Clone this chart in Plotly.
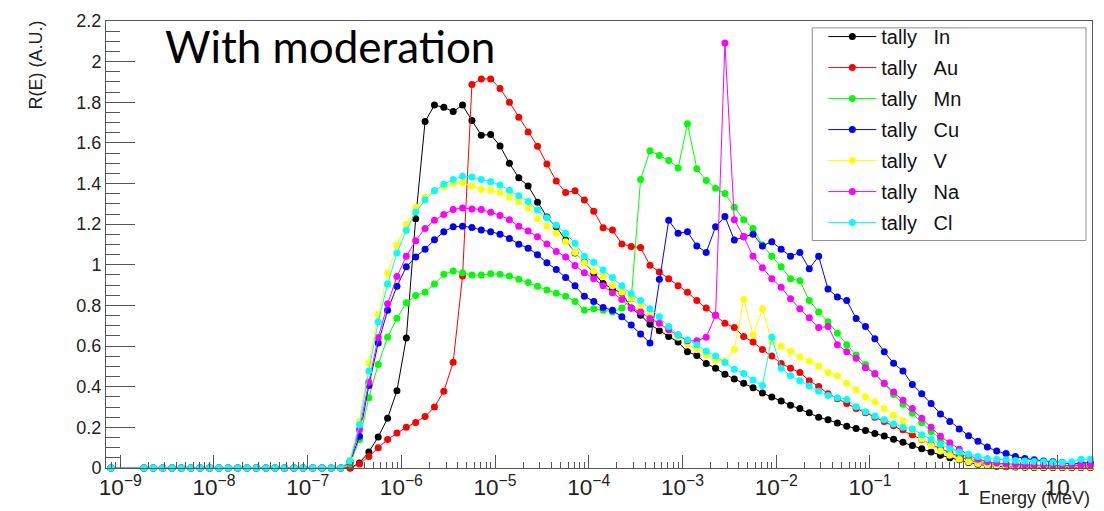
import numpy as np
import plotly.graph_objects as go

# ---- Energy binning (MeV): first bin [0, 10^-8.8], then 10 log-bins per decade up to 10^1.4
bin_exponents = np.arange(-88, 15) / 10.0
bin_edges = np.concatenate([[0.0], 10.0 ** bin_exponents])
energy = 0.5 * (bin_edges[:-1] + bin_edges[1:])   # bin centres, 103 bins

# 23 empty bins below 10^-6.6 MeV (shared by all tallies)
low_energy_zeros = [0.0, 0.0, 0.0, 0.0, 0.0, 0.0, 0.0, 0.0, 0.0, 0.0, 0.0, 0.0,
                    0.0, 0.0, 0.0, 0.0, 0.0, 0.0, 0.0, 0.0, 0.0, 0.0, 0.0]

# ---- R(E) values for bins 10^-6.6 ... 10^1.3 (80 bins each)
tally_In = [0.0, 0.025, 0.079, 0.153, 0.245, 0.38, 0.64, 1.227, 1.705, 1.786, 1.775, 1.754, 1.786, 1.71, 1.638, 1.641, 1.585, 1.50, 1.428, 1.388, 1.308, 1.235, 1.187,
            1.122, 1.058, 1.013, 0.958, 0.908, 0.881, 0.862, 0.787, 0.752, 0.707, 0.675, 0.647, 0.62, 0.572, 0.554, 0.514, 0.491, 0.462, 0.438, 0.417, 0.395, 0.369, 0.349, 0.33, 0.309, 0.293, 0.272, 0.25, 0.237, 0.221, 0.205,
            0.195, 0.184, 0.17, 0.157, 0.142, 0.127, 0.111, 0.095, 0.079, 0.063, 0.05, 0.04, 0.027, 0.018, 0.012, 0.008, 0.006, 0.005, 0.004, 0.003, 0.003, 0.002, 0.002, 0.002, 0.002, 0.002]
tally_Au = [0.0, 0.02, 0.056, 0.10, 0.14, 0.172, 0.20, 0.224, 0.253, 0.30, 0.378, 0.52, 0.945, 1.887, 1.915, 1.915, 1.868, 1.80, 1.726, 1.654, 1.584, 1.496, 1.412,
            1.356, 1.364, 1.319, 1.264, 1.182, 1.171, 1.103, 1.09, 1.085, 0.998, 0.965, 0.932, 0.897, 0.865, 0.824, 0.787, 0.752, 0.712, 0.691, 0.647, 0.62, 0.583, 0.551, 0.514, 0.491, 0.47, 0.43, 0.401, 0.366, 0.341, 0.317,
            0.293, 0.272, 0.25, 0.229, 0.208, 0.188, 0.164, 0.14, 0.116, 0.095, 0.076, 0.056, 0.04, 0.027, 0.019, 0.013, 0.009, 0.007, 0.006, 0.005, 0.005, 0.004, 0.004, 0.004, 0.004, 0.004]
tally_Mn = [0.02, 0.14, 0.346, 0.51, 0.643, 0.737, 0.813, 0.849, 0.865, 0.905, 0.953, 0.969, 0.961, 0.95, 0.95, 0.956, 0.953, 0.945, 0.929, 0.913, 0.894, 0.876, 0.86,
            0.845, 0.82, 0.776, 0.784, 0.776, 0.768, 0.787, 0.833, 1.42, 1.562, 1.538, 1.514, 1.477, 1.694, 1.473, 1.415, 1.377, 1.351, 1.283, 1.222, 1.179, 1.098, 1.042, 0.99, 0.932, 0.921, 0.824, 0.768, 0.72, 0.663, 0.607,
            0.556, 0.51, 0.462, 0.414, 0.362, 0.314, 0.269, 0.224, 0.18, 0.143, 0.105, 0.076, 0.052, 0.035, 0.024, 0.017, 0.013, 0.011, 0.01, 0.009, 0.009, 0.008, 0.008, 0.008, 0.008, 0.008]
tally_Cu = [0.03, 0.156, 0.406, 0.615, 0.776, 0.894, 0.99, 1.039, 1.077, 1.123, 1.163, 1.187, 1.19, 1.184, 1.171, 1.163, 1.151, 1.13, 1.101, 1.082, 1.05, 1.01, 0.977,
            0.937, 0.897, 0.845, 0.82, 0.79, 0.776, 0.744, 0.704, 0.66, 0.615, 0.929, 1.219, 1.155, 1.163, 1.093, 1.061, 1.187, 1.238, 1.122, 1.138, 1.151, 1.093, 1.114, 1.077, 1.042, 1.061, 0.981, 1.042, 0.881, 0.841, 0.824,
            0.736, 0.696, 0.636, 0.572, 0.515, 0.478, 0.411, 0.366, 0.317, 0.266, 0.229, 0.192, 0.159, 0.132, 0.103, 0.084, 0.071, 0.056, 0.047, 0.04, 0.035, 0.031, 0.027, 0.019, 0.024, 0.027]
tally_V = [0.04, 0.229, 0.518, 0.755, 0.958, 1.098, 1.198, 1.283, 1.332, 1.367, 1.383, 1.40, 1.404, 1.388, 1.372, 1.367, 1.356, 1.332, 1.311, 1.28, 1.227, 1.19, 1.155,
           1.114, 1.061, 1.01, 0.969, 0.942, 0.897, 0.865, 0.836, 0.792, 0.755, 0.707, 0.675, 0.643, 0.61, 0.583, 0.556, 0.53, 0.527, 0.583, 0.829, 0.655, 0.784, 0.623, 0.599, 0.575, 0.546, 0.527, 0.502, 0.47, 0.454, 0.417,
           0.385, 0.349, 0.325, 0.293, 0.261, 0.233, 0.188, 0.143, 0.111, 0.084, 0.063, 0.043, 0.031, 0.022, 0.016, 0.012, 0.01, 0.008, 0.007, 0.006, 0.006, 0.006, 0.006, 0.006, 0.006, 0.006]
tally_Na = [0.03, 0.188, 0.422, 0.642, 0.808, 0.942, 1.042, 1.119, 1.179, 1.219, 1.248, 1.272, 1.28, 1.275, 1.272, 1.259, 1.243, 1.222, 1.19, 1.166, 1.138, 1.103, 1.066,
            1.039, 0.997, 0.961, 0.932, 0.897, 0.862, 0.829, 0.787, 0.768, 0.736, 0.712, 0.68, 0.655, 0.626, 0.626, 0.643, 0.752, 2.092, 1.222, 1.138, 1.042, 0.986, 0.932, 0.889, 0.833, 0.784, 0.739, 0.691, 0.696, 0.607, 0.572,
            0.54, 0.494, 0.465, 0.417, 0.374, 0.333, 0.293, 0.245, 0.2, 0.156, 0.124, 0.092, 0.063, 0.043, 0.031, 0.024, 0.02, 0.017, 0.015, 0.014, 0.013, 0.012, 0.012, 0.012, 0.013, 0.014]
tally_Cl = [0.035, 0.213, 0.478, 0.72, 0.905, 1.058, 1.17, 1.26, 1.319, 1.364, 1.396, 1.42, 1.436, 1.432, 1.42, 1.409, 1.393, 1.367, 1.34, 1.312, 1.27, 1.232, 1.195,
            1.155, 1.106, 1.042, 1.013, 0.974, 0.937, 0.897, 0.857, 0.824, 0.784, 0.744, 0.696, 0.655, 0.631, 0.607, 0.575, 0.551, 0.519, 0.486, 0.465, 0.433, 0.406, 0.643, 0.491, 0.454, 0.43, 0.403, 0.378, 0.357, 0.346, 0.337,
            0.301, 0.277, 0.256, 0.237, 0.217, 0.201, 0.192, 0.164, 0.14, 0.116, 0.095, 0.079, 0.068, 0.056, 0.047, 0.043, 0.04, 0.037, 0.035, 0.032, 0.031, 0.027, 0.027, 0.031, 0.043, 0.043]

series_names = ["In", "Au", "Mn", "Cu", "V", "Na", "Cl"]
series_values = [tally_In, tally_Au, tally_Mn, tally_Cu, tally_V, tally_Na, tally_Cl]
series_colors = ["#000000", "#ff0000", "#00ff00", "#0000ff", "#ffff00", "#ff00ff", "#00ffff"]

y_ticks = [0, 0.2, 0.4, 0.6, 0.8, 1, 1.2, 1.4, 1.6, 1.8, 2, 2.2]

fig = go.Figure()
for name, vals, col in zip(series_names, series_values, series_colors):
    y = low_energy_zeros + vals
    assert len(y) == len(energy), (name, len(y))
    fig.add_trace(go.Scatter(
        x=energy, y=y, mode="lines+markers",
        name="tally\u00a0\u00a0\u00a0" + name, legendgroup=name,
        line=dict(color=col, width=1),
        marker=dict(color=col, size=7, symbol="circle"),
        cliponaxis=False,
    ))

axis_font = dict(family="Liberation Sans, Arial, sans-serif", size=18, color="#222222")

fig.update_layout(
    width=1104, height=511,
    margin=dict(l=106, r=11, t=15, b=42),
    paper_bgcolor="white", plot_bgcolor="white",
    showlegend=True,
    legend=dict(
        x=0.7275, y=1.0088, xanchor="left", yanchor="top",
        bgcolor="rgba(0,0,0,0)", borderwidth=0,
        font=dict(family="Liberation Sans, Arial, sans-serif", size=20, color="#111111"),
        tracegroupgap=2, itemwidth=48,
    ),
    shapes=[
        # legend frame (white box drawn over the curves)
        dict(type="rect", xref="paper", yref="paper", x0=0.7163, x1=0.9939, y0=0.5088, y1=0.9846,
             line=dict(color="#8c8c8c", width=1), fillcolor="white", layer="above"),
    ],
    xaxis=dict(
        type="log", range=[-9.152, 1.37],
        showgrid=False, zeroline=False,
        showline=True, linecolor="#555555", linewidth=1, mirror=True,
        ticks="inside", ticklen=13, tickcolor="#555555", tickwidth=1,
        dtick=1, exponentformat="power", tickfont=axis_font,
        minor=dict(ticks="inside", ticklen=6, dtick="D1", tickcolor="#555555", tickwidth=1, showgrid=False),
    ),
    yaxis=dict(
        range=[0, 2.2], tickvals=y_ticks,
        showgrid=False, zeroline=False,
        showline=True, linecolor="#555555", linewidth=1, mirror=True,
        ticks="inside", ticklen=29, tickcolor="#555555", tickwidth=1,
        tickfont=axis_font,
        minor=dict(ticks="inside", ticklen=14, dtick=0.05, tickcolor="#555555", tickwidth=1, showgrid=False),
    ),
    annotations=[
        dict(text="R(E) (A.U.)", xref="paper", yref="paper", x=-0.0709, y=0.9009,
             xanchor="center", yanchor="middle", textangle=-90, showarrow=False,
             font=dict(family="Liberation Sans, Arial, sans-serif", size=18, color="#222222")),
        dict(text="Energy (MeV)", xref="paper", yref="paper", x=1.0, y=-0.066,
             xanchor="right", yanchor="middle", showarrow=False,
             font=dict(family="Liberation Sans, Arial, sans-serif", size=18, color="#222222")),
        dict(text="With moderation", xref="paper", yref="paper", x=0.0578, y=0.945,
             xanchor="left", yanchor="middle", showarrow=False,
             font=dict(family="Lato, sans-serif", size=44, color="#000000")),
    ],
)

fig.write_html("out.html")
